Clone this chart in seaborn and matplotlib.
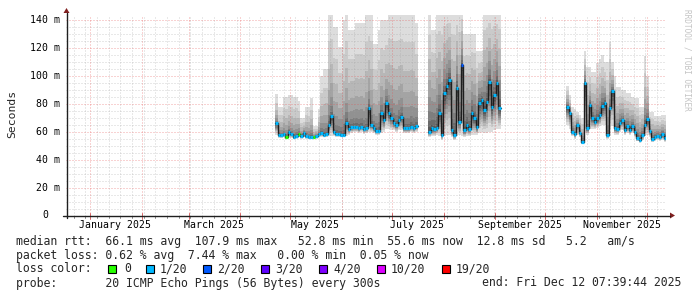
import numpy as np
import pandas as pd
import matplotlib
matplotlib.use("Agg")
import matplotlib.pyplot as plt
import matplotlib.dates as mdates
import matplotlib.transforms as mtransforms
from matplotlib.patches import Rectangle, Polygon
from matplotlib.lines import Line2D
import seaborn as sns

# ---------------- data ----------------
range_start = "2024-12-17 07:39:44"
range_end = "2025-12-12 07:39:44"
step_hours = 36

seg1_start = "2025-04-22 00:00"
seg1_median = [66.0, 58.0, 57.5, 58.4, 56.0, 60.0, 58.2, 56.0, 57.0, 58.4,
               57.0, 59.3, 57.0, 56.5, 56.5, 56.2, 57.0, 58.4, 58.9, 58.0,
               58.4, 64.8, 71.3, 59.5, 58.4, 58.4, 58.0, 58.0, 66.5, 61.7,
               63.2, 63.6, 63.6, 62.4, 63.6, 61.7, 62.4, 76.8, 64.8, 62.4,
               60.7, 60.7, 73.2, 68.4, 80.4, 73.2, 70.0, 66.0, 64.8, 68.4,
               70.8, 62.4, 62.4, 62.4, 63.6, 62.4, 64.0]
seg1_min = [58, 55.5, 55.5, 56, 54.5, 56, 55.5, 54.5, 55, 56,
            55, 56, 55, 54.5, 54.5, 54.5, 55, 56, 56.5, 56,
            56, 57, 57, 57, 56.5, 56.5, 56, 56, 57, 58,
            59, 59.5, 59.5, 59, 60, 58.5, 59, 60, 60, 59,
            57.5, 57.5, 59, 60, 62, 62, 61, 61, 60, 61,
            61, 59, 59, 59, 59.5, 59, 60]
seg1_max = [87, 78, 78, 85, 85, 86, 86, 85, 85, 82,
            70, 70, 78, 78, 84, 64, 64, 76, 100, 105,
            105, 150, 150, 135, 135, 121, 121, 140, 150, 133,
            133, 133, 138, 138, 138, 138, 150, 150, 150, 123,
            123, 133, 140, 140, 140, 150, 150, 150, 150, 150,
            150, 150, 150, 150, 150, 150, 138]
seg1_loss = [1, 1, 1, 1, 0, 1, 1, 1, 1, 0,
             1, 1, 1, 1, 1, 0, 1, 1, 1, 1,
             1, 1, 1, 1, 1, 1, 1, 1, 1, 1,
             1, 1, 1, 1, 1, 1, 1, 1, 1, 1,
             1, 1, 1, 1, 1, 1, 1, 1, 1, 1,
             1, 1, 1, 1, 1, 1, 1]

seg2_start = "2025-07-22 18:00"
seg2_median = [60.0, 62.4, 61.7, 62.4, 73.2, 57.7, 87.5, 92.8, 97.1, 61.2,
               57.7, 91.1, 67.2, 107.9, 61.2, 64.8, 61.7, 73.2, 69.6, 63.2,
               80.8, 82.7, 75.6, 81.5, 95.8, 77.9, 86.0, 95.1, 76.8]
seg2_min = [56, 57, 57, 58, 57, 54, 57, 58, 58, 56,
            54, 57, 58, 57, 56, 57, 57, 58, 58, 58,
            59, 60, 59, 59, 60, 60, 61, 62, 62]
seg2_max = [150, 133, 133, 150, 150, 150, 150, 150, 150, 150,
            150, 150, 150, 150, 130, 130, 130, 130, 130, 118,
            118, 118, 150, 150, 150, 150, 150, 150, 150]
seg2_loss = [1, 1, 1, 1, 1, 1, 1, 1, 1, 1,
             1, 1, 1, 2, 1, 1, 1, 1, 1, 1,
             1, 1, 1, 1, 1, 1, 1, 1, 1]

seg3_start = "2025-10-13 12:00"
seg3_median = [77.9, 73.7, 60.0, 58.2, 65.0, 59.3, 52.8, 94.7, 62.4, 79.2,
               69.6, 67.2, 69.6, 72.0, 78.7, 80.4, 57.7, 76.8, 89.4, 62.4,
               61.7, 66.5, 68.4, 61.2, 64.1, 61.2, 64.1, 59.8, 55.3, 54.1,
               57.7, 64.8, 68.9, 60.5, 54.6, 56.5, 57.0, 56.0, 58.2, 55.6]
seg3_min = [65, 62, 57, 55, 58, 56, 51, 60, 58, 62,
            62, 62, 63, 64, 65, 65, 55, 62, 64, 58,
            58, 60, 61, 58, 59, 58, 59, 56, 53, 52,
            54, 57, 58, 56, 52.5, 53.5, 54, 53.5, 54, 52.5]
seg3_max = [93, 86, 78, 76, 74, 72, 70, 118, 106, 106,
            103, 103, 109, 112, 115, 110, 110, 124, 110, 100,
            92, 92, 90, 90, 88, 88, 85, 84, 84, 78,
            78, 114, 100, 74, 74, 71, 71, 71, 72, 72]
seg3_loss = [1] * 40

y_ticks = [0, 20, 40, 60, 80, 100, 120, 140]
y_tick_labels = ["0", "20 m", "40 m", "60 m", "80 m", "100 m", "120 m", "140 m"]
x_label_months = ["2025-01", "2025-03", "2025-05", "2025-07", "2025-09", "2025-11"]
x_tick_labels = ["January 2025", "March 2025", "May 2025", "July 2025",
                 "September 2025", "November 2025"]
y_label = "Seconds"

loss_labels = ["0", "1/20", "2/20", "3/20", "4/20", "10/20", "19/20"]
loss_colors = ["#26ff00", "#00b8ff", "#0059ff", "#5e00ff", "#7e00ff", "#dd00ff", "#ff0000"]
loss_index = {0: 0, 1: 1, 2: 2, 3: 3, 4: 4, 10: 5, 19: 6}

legend_line1 = "median rtt:  66.1 ms avg  107.9 ms max   52.8 ms min  55.6 ms now  12.8 ms sd   5.2   am/s"
legend_line2 = "packet loss: 0.62 % avg  7.44 % max   0.00 % min  0.05 % now"
legend_line3 = "loss color:"
legend_line4 = "probe:       20 ICMP Echo Pings (56 Bytes) every 300s"
legend_end = "end: Fri Dec 12 07:39:44 2025"
watermark = "RRDTOOL / TOBI OETIKER"

# smoke spread exponent per segment (style)
seg_gamma = [3.0, 2.2, 2.4]

# ---------------- figure ----------------
sns.set_theme(style="white")
plt.rcParams["font.family"] = ["DejaVu Sans Mono", "DejaVu Sans"]
plt.rcParams["lines.scale_dashes"] = False

W, H = 697, 297
fig = plt.figure(figsize=(W / 100, H / 100), dpi=100)
fig.patch.set_facecolor("white")


def fx(px):
    return px / W


def fy(py):
    return 1 - py / H


ax = fig.add_axes([fx(66.0), fy(215.5), 600 / W, 200.5 / H])
ax.set_facecolor("white")
for s in ax.spines.values():
    s.set_visible(False)

t0 = mdates.date2num(pd.Timestamp(range_start))
t1 = mdates.date2num(pd.Timestamp(range_end))
step = pd.Timedelta(hours=step_hours)

segments = [
    (seg1_start, seg1_median, seg1_min, seg1_max, seg1_loss, seg_gamma[0]),
    (seg2_start, seg2_median, seg2_min, seg2_max, seg2_loss, seg_gamma[1]),
    (seg3_start, seg3_median, seg3_min, seg3_max, seg3_loss, seg_gamma[2]),
]

for start, med, lo, hi, loss, g in segments:
    med = np.asarray(med, float)
    lo = np.asarray(lo, float)
    hi = np.asarray(hi, float)
    times = pd.date_range(pd.Timestamp(start), periods=len(med), freq=step)
    edges = list(times) + [times[-1] + step]
    tnum = mdates.date2num(pd.DatetimeIndex(edges).to_pydatetime())

    def ext(a):
        return np.append(a, a[-1])

    # smoke: 10 nested bands, outer light -> inner dark
    for ib in range(1, 11):
        f_lo = ((ib - 1) / 9.0) ** 0.8
        f_hi = ((10 - ib) / 9.0) ** g
        bot = lo + (med - lo) * f_lo
        top = med + (hi - med) * f_hi
        c = (19 * (10 - ib) + 50) / 255.0
        ax.fill_between(tnum, ext(bot), ext(top), step="post",
                        color=(c, c, c), lw=0, zorder=1)

    # median step line
    df = pd.DataFrame({"t": tnum, "median": ext(med)})
    sns.lineplot(data=df, x="t", y="median", drawstyle="steps-post",
                 color="#1e1e1e", lw=1.0, estimator=None, ax=ax, zorder=5)
    cols = [loss_colors[loss_index[v]] for v in loss]
    ax.hlines(med, tnum[:-1], tnum[1:], colors=cols, lw=2.3, zorder=6)

ax.set_xlim(t0, t1)
ax.set_ylim(0, 143.6)
ax.set_xticks([])
ax.set_yticks([])
ax.set_xlabel("")
ax.set_ylabel("")

# ---------------- grid ----------------
dots = (0, (0.72, 1.44))
minor_col = (0.62, 0.62, 0.62, 0.45)
major_col = (0.9, 0.3, 0.3, 0.5)
weeks = pd.date_range("2024-12-22", "2025-12-12", freq="7D")
months = pd.date_range("2025-01-01", "2025-12-01", freq="MS")
for w in weeks:
    ax.axvline(mdates.date2num(w), color=minor_col, lw=0.72, ls=dots, zorder=3)
for v in range(5, 145, 5):
    if v % 20:
        ax.axhline(v, color=minor_col, lw=0.72, ls=dots, zorder=3)
for m in months:
    ax.axvline(mdates.date2num(m), color=major_col, lw=0.72, ls=dots, zorder=3)
for v in y_ticks[1:]:
    ax.axhline(v, color=major_col, lw=0.72, ls=dots, zorder=3)

# ---------------- tick labels ----------------
ylab_tr = mtransforms.offset_copy(ax.get_yaxis_transform(), fig=fig, x=-6, y=0, units="dots")
ylab_tr0 = mtransforms.offset_copy(ax.get_yaxis_transform(), fig=fig, x=-18, y=0, units="dots")
for v, lab in zip(y_ticks, y_tick_labels):
    ax.text(0, v, lab, transform=ylab_tr if v else ylab_tr0, ha="right", va="center",
            fontsize=7.1, color="black", clip_on=False)

xlab_tr = mtransforms.offset_copy(ax.get_xaxis_transform(), fig=fig, x=0, y=-10, units="dots")
for mo, lab in zip(x_label_months, x_tick_labels):
    xt = mdates.date2num(pd.Timestamp(mo + "-16"))
    ax.text(xt, 0, lab, transform=xlab_tr, ha="center", va="center",
            fontsize=7.1, color="black", clip_on=False)

# small tick marks on the x axis
tick_tr = ax.get_xaxis_transform()
for w in weeks:
    ax.add_line(Line2D([mdates.date2num(w)] * 2, [0, -2 / 200.5], transform=tick_tr,
                       color=(0.45, 0.45, 0.45), lw=0.6, clip_on=False))
for m in months:
    ax.add_line(Line2D([mdates.date2num(m)] * 2, [0.01, -3 / 200.5], transform=tick_tr,
                       color=(0.8, 0.3, 0.3), lw=0.6, clip_on=False))

# ---------------- axes lines and arrows ----------------
axis_col = (0.12, 0.12, 0.12)
arrow_col = (0.5, 0.12, 0.12)
fig.add_artist(Line2D([fx(63), fx(670)], [fy(215.5), fy(215.5)], color=axis_col, lw=1.0))
fig.add_artist(Line2D([fx(66.5), fx(66.5)], [fy(218), fy(13)], color=axis_col, lw=1.0))
fig.add_artist(Polygon([(fx(670), fy(212.5)), (fx(670), fy(218.5)), (fx(675), fy(215.5))],
                       closed=True, color=arrow_col, lw=0))
fig.add_artist(Polygon([(fx(63.5), fy(13)), (fx(69.5), fy(13)), (fx(66.5), fy(8))],
                       closed=True, color=arrow_col, lw=0))

# ---------------- labels ----------------
fig.text(fx(12), fy(114), y_label, rotation=90, ha="center", va="center", fontsize=8.2)
fig.text(fx(687), fy(60), watermark, rotation=270, ha="center", va="center",
         fontsize=5.6, color="#c4c4c4")

LF = 8.3
fig.text(fx(16), fy(241), legend_line1, ha="left", va="center", fontsize=LF)
fig.text(fx(16), fy(255), legend_line2, ha="left", va="center", fontsize=LF)
fig.text(fx(16), fy(269), legend_line3, ha="left", va="center", fontsize=LF)
fig.text(fx(16), fy(283), legend_line4, ha="left", va="center", fontsize=LF)
fig.text(fx(681), fy(283), legend_end, ha="right", va="center", fontsize=LF)

box_x = [108, 145.5, 203, 261, 319, 376.5, 442]
text_x = [124, 159.5, 217.5, 275.5, 333.5, 391, 456]
for bx, tx, lab, col in zip(box_x, text_x, loss_labels, loss_colors):
    fig.add_artist(Rectangle((fx(bx), fy(273)), 8 / W, 8 / H, facecolor=col,
                             edgecolor="black", lw=0.8))
    fig.text(fx(tx), fy(269), lab, ha="left", va="center", fontsize=LF)

fig.savefig("out.png", dpi=100, facecolor="white")
